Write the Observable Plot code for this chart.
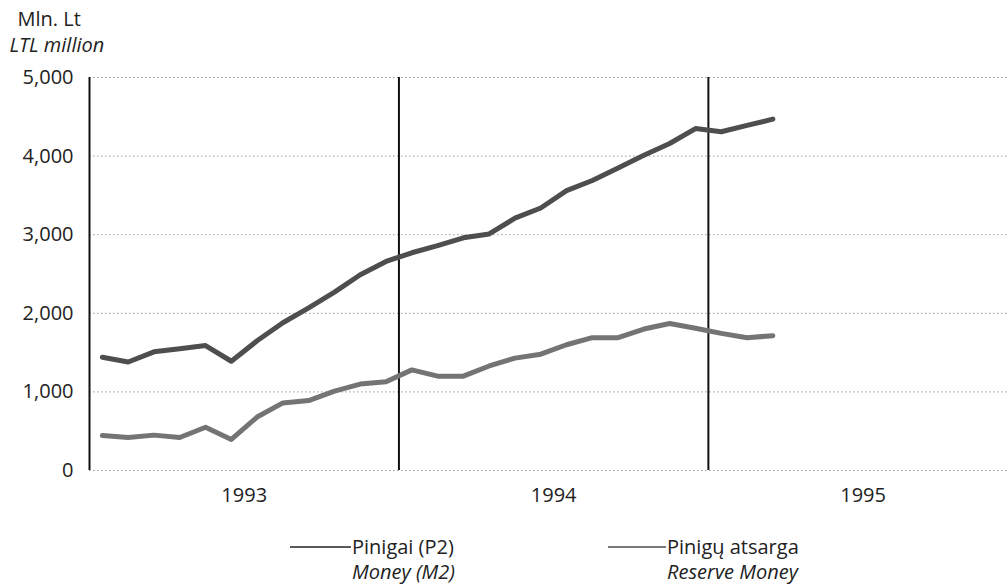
<!DOCTYPE html>
<html>
<head>
<meta charset="utf-8">
<script src="https://cdn.jsdelivr.net/npm/d3@7"></script>
<script src="https://cdn.jsdelivr.net/npm/@observablehq/plot@0.6"></script>
<style>
  html, body { margin: 0; padding: 0; background: #fff; overflow: hidden; }
  #wrap { position: relative; width: 1007px; height: 584px; font-family: "Open Sans", sans-serif; color: #222; }
  .leg { position: absolute; font-size: 20px; line-height: 25px; }
  .leg .sw { position: absolute; height: 2px; background: #666; }
  .it { font-style: italic; }
</style>
</head>
<body>
<div id="wrap"></div>
<script>
// Monthly periods, Jan 1993 – Mar 1995
const periods = ["1993-01","1993-02","1993-03","1993-04","1993-05","1993-06","1993-07","1993-08","1993-09","1993-10","1993-11","1993-12",
                 "1994-01","1994-02","1994-03","1994-04","1994-05","1994-06","1994-07","1994-08","1994-09","1994-10","1994-11","1994-12",
                 "1995-01","1995-02","1995-03"];
// Pinigai (P2) / Money (M2), mln. Lt
const money = [1440,1380,1510,1550,1590,1390,1650,1880,2070,2270,2490,2660,
               2770,2860,2960,3010,3210,3340,3560,3690,3850,4010,4160,4350,
               4310,4390,4470];
// Pinigų atsarga / Reserve Money, mln. Lt
const reserve = [445,420,450,420,550,395,680,860,890,1010,1100,1130,
                 1280,1200,1200,1330,1430,1480,1600,1690,1690,1800,1870,1810,
                 1745,1690,1715];
const years = ["1993","1994","1995"];
const yTicks = [0,1000,2000,3000,4000,5000];
const seriesNames = ["Money (M2)","Reserve Money"];

const idx = p => { const [y,m] = p.split("-").map(Number); return (y - 1993) * 12 + (m - 1) + 0.5; };
const rows = [];
periods.forEach((p,i) => {
  rows.push({t: idx(p), v: money[i], s: seriesNames[0]});
  rows.push({t: idx(p), v: reserve[i], s: seriesNames[1]});
});
const yearRows = years.map((y,i) => ({label: y, mid: i*12 + 6, start: i*12}));

const chart = Plot.plot({
  width: 1007,
  height: 584,
  marginLeft: 89,
  marginRight: 0,
  marginTop: 77,
  marginBottom: 114,
  style: {fontFamily: "'Open Sans', sans-serif", fontSize: "20px", color: "#222", background: "#fff"},
  x: {domain: [0, 35.6], axis: null},
  y: {domain: [0, 5000], axis: null},
  color: {domain: seriesNames, range: ["#4e4e4e", "#747474"]},
  marks: [
    Plot.ruleY(yTicks, {stroke: "#999", strokeWidth: 1, strokeDasharray: "1.5,2.5"}),
    Plot.ruleX(yearRows, {x: "start", stroke: "#111", strokeWidth: 2}),
    Plot.line(rows, {x: "t", y: "v", z: "s", stroke: "s", strokeWidth: 5, strokeLinejoin: "round", strokeLinecap: "round"}),
    Plot.text(yTicks, {x: 0, y: d => d, text: d => d3.format(",")(d), textAnchor: "end", dx: -16, fill: "#222"}),
    Plot.text(yearRows, {x: "mid", y: 0, text: "label", dy: 25, fill: "#222"}),
    Plot.text(["Mln. Lt"], {frameAnchor: "top-left", lineAnchor: "middle", text: d => d, textAnchor: "start", dx: -72, dy: -58, fill: "#222"}),
    Plot.text(["LTL million"], {frameAnchor: "top-left", lineAnchor: "middle", text: d => d, textAnchor: "start", dx: -80, dy: -32, fill: "#222", fontStyle: "italic"})
  ]
});
const wrap = document.getElementById("wrap");
wrap.appendChild(chart);

// Legend below the plot frame
const legend = [
  {name1: "Pinigai (P2)", name2: "Money (M2)", left: 290, sw: 61, color: "#5a5a5a"},
  {name1: "Pinigų atsarga", name2: "Reserve Money", left: 608, sw: 58, color: "#7a7a7a"}
];
legend.forEach(l => {
  const d = document.createElement("div");
  d.className = "leg";
  d.style.left = l.left + "px";
  d.style.top = "534px";
  d.innerHTML = `<span class="sw" style="left:0;top:12px;width:${l.sw}px;background:${l.color}"></span>
    <div style="margin-left:${l.sw + 1}px">${l.name1}</div>
    <div class="it" style="margin-left:${l.sw + 1}px">${l.name2}</div>`;
  wrap.appendChild(d);
});
</script>
</body>
</html>
